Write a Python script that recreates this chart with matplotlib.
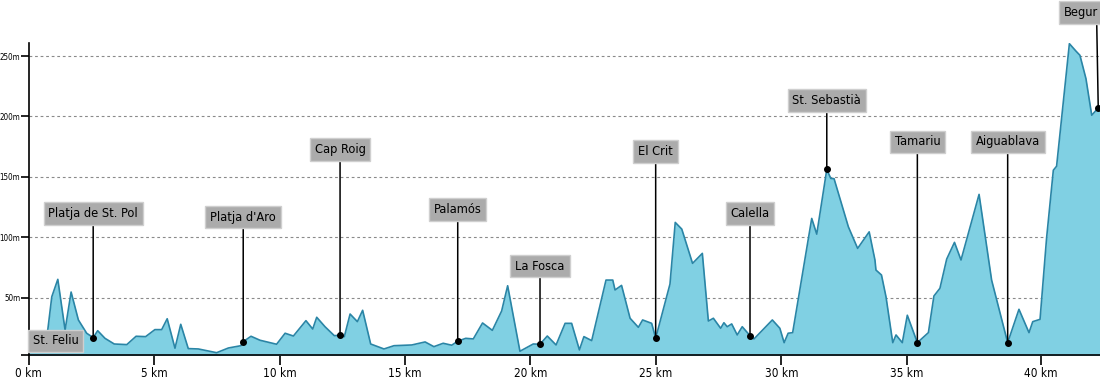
import numpy as np
import matplotlib
matplotlib.use('Agg')
from matplotlib import pyplot as plt

# elevation profile (km, metres)
dist_km = [0, 0.4, 0.76, 0.92, 1.16, 1.45, 1.69, 1.98, 2.31, 2.57, 2.75, 3.04, 3.41, 3.91,
           4.28, 4.66, 5.03, 5.30, 5.52, 5.83, 6.06, 6.36, 6.76, 7.49, 7.96, 8.46, 8.55,
           8.86, 9.22, 9.88, 10.22, 10.55, 11.05, 11.32, 11.48, 11.81, 12.18, 12.41, 12.58,
           12.81, 13.10, 13.31, 13.63, 14.16, 14.56, 15.27, 15.80, 16.15, 16.52, 16.86,
           17.10, 17.42, 17.72, 18.09, 18.48, 18.85, 19.09, 19.58, 20.11, 20.38, 20.67,
           21.02, 21.38, 21.64, 21.95, 22.13, 22.44, 23.01, 23.28, 23.37, 23.63, 23.97,
           24.30, 24.47, 24.83, 24.99, 25.56, 25.77, 26.03, 26.46, 26.85, 27.09, 27.29,
           27.58, 27.71, 27.84, 28.02, 28.24, 28.44, 28.75, 28.91, 29.64, 29.94, 30.11,
           30.27, 30.45, 31.21, 31.41, 31.81, 31.97, 32.10, 32.67, 33.04, 33.50, 33.73,
           33.77, 33.99, 34.17, 34.44, 34.57, 34.82, 35.02, 35.42, 35.86, 36.08, 36.32,
           36.59, 36.90, 37.16, 37.88, 38.38, 39.02, 39.47, 39.87, 40.02, 40.31, 40.57,
           40.84, 40.97, 41.48, 41.74, 41.90, 42.14, 42.37, 42.63, 42.70]
elev_m = [14.2, 14, 23.3, 50.8, 65.2, 23.3, 54.7, 31.6, 20.6, 17.0, 22.7, 16.4, 11.7, 11.2,
          18.1, 17.8, 23.6, 23.6, 32.6, 8.2, 28, 7.9, 7.6, 4.5, 8.4, 10.3, 13.6,
          18.1, 14.8, 11.5, 20.6, 18.3, 31, 24.1, 33.8, 26, 18.6, 18.9, 17.8,
          36.5, 30.2, 39.6, 11.7, 7.6, 10.3, 10.9, 13.4, 9.5, 12.3, 10.7,
          14.0, 16.4, 15.9, 29.1, 23.0, 39.0, 59.9, 5.7, 11.7, 11.5, 18.3,
          10.9, 28.8, 28.8, 6.8, 17.8, 14.5, 64.6, 64.6, 56.4, 60.2, 33,
          25.5, 31.6, 28.8, 16.5, 61.3, 112.3, 106.8, 78.4, 86.7, 30.7, 33,
          24.7, 29.3, 26, 28.3, 19.2, 26, 18.6, 15.9, 31.6, 24.7, 12.8,
          20.6, 21.1, 115.6, 102.6, 156.1, 148.7, 148.5, 108.7, 90.8, 104.5, 81.2,
          72.9, 68.8, 50.8, 12.8, 19.2, 12.8, 35.5, 12.8, 21.1, 51.4, 57.8,
          82, 95.8, 81.2, 135.5, 64.6, 12.8, 40.4, 21.1, 30.2, 32.1, 99.1,
          155.5, 158.8, 260.2, 254.1, 250.6, 231.3, 201, 207, 208]

place_names = ['St. Feliu', 'Platja de St. Pol', "Platja d'Aro", 'Cap Roig', 'Palamós',
               'La Fosca', 'El Crit', 'Calella', 'St. Sebastià', 'Tamariu', 'Aiguablava', 'Begur']
place_km = [0, 2.57, 8.55, 12.41, 17.10, 20.38, 24.99, 28.75, 31.81, 35.42, 39.02, 42.63]

y_ticks = [50, 100, 150, 200, 250]
y_labels = ['50m', '100m', '150m', '200m', '250m']
x_ticks = [0, 5, 10, 15, 20, 25, 30, 35, 40.33]
x_labels = ['0 km', '5 km', '10 km', '15 km', '20 km', '25 km', '30 km', '35 km', '40 km']

# label box heights (layout, metres)
box_y = [None, 119.6, 116.7, 172.9, 123.1, 76.2, 171, 119.8, 213.4, 178.9, 178.9, 286]

lab_font = ['DejaVu Sans']

fig = plt.figure(figsize=(11, 3.8), dpi=100)
ax = fig.add_axes([0.0261, 0.0658, 0.9739, 0.8218])

ax.fill_between(dist_km, elev_m, 0, color='#80d0e3', lw=0, zorder=2)
ax.plot(dist_km, elev_m, color='#2a85a6', lw=1.2, zorder=3)

ax.set_xlim(0, 42.7)
ax.set_ylim(2.6, 261)

for y in y_ticks:
    ax.axhline(y, color='#8a8a8a', lw=0.8, ls=(0, (2.5, 2.5)), zorder=1)

ax.set_yticks([2.6] + y_ticks)
ax.set_yticklabels([''] + y_labels, family=lab_font, fontsize=5.8, stretch='condensed')
ax.set_xticks(x_ticks)
ax.set_xticklabels(x_labels, family=lab_font, fontsize=8.5, stretch='condensed')
ax.tick_params(axis='y', length=5.5, width=1.2, pad=0.5)
ax.tick_params(axis='x', length=7, width=1.2, pad=2)

for s in ['top', 'right']:
    ax.spines[s].set_visible(False)
ax.spines['left'].set_linewidth(1.2)
ax.spines['bottom'].set_linewidth(1.2)

pt_elev = np.interp(place_km, dist_km, elev_m)
box = dict(boxstyle='square,pad=0.38', fc='#ababab', ec='#cfcfcf', lw=1)

for name, km, el, by in zip(place_names, place_km, pt_elev, box_y):
    if by is None:
        ax.annotate(name, (km, el), xytext=(3, 0), textcoords='offset points',
                    ha='left', va='center', fontsize=9.2, family=lab_font,
                    stretch='condensed', bbox=box, zorder=6)
        continue
    ha = 'right' if km > 42 else 'center'
    rel = (0.95, 0.5) if ha == 'right' else (0.5, 0.5)
    ax.annotate(name, (km, el), xytext=(km, by), textcoords='data',
                ha=ha, va='center', fontsize=9.2, family=lab_font,
                stretch='condensed', bbox=box, annotation_clip=False, zorder=6,
                arrowprops=dict(arrowstyle='-', color='black', lw=1.1,
                                shrinkA=0, shrinkB=0, relpos=rel))
    ax.plot(km, el, 'o', color='black', ms=4, zorder=7, clip_on=False)

fig.savefig('out.png', dpi=100)
